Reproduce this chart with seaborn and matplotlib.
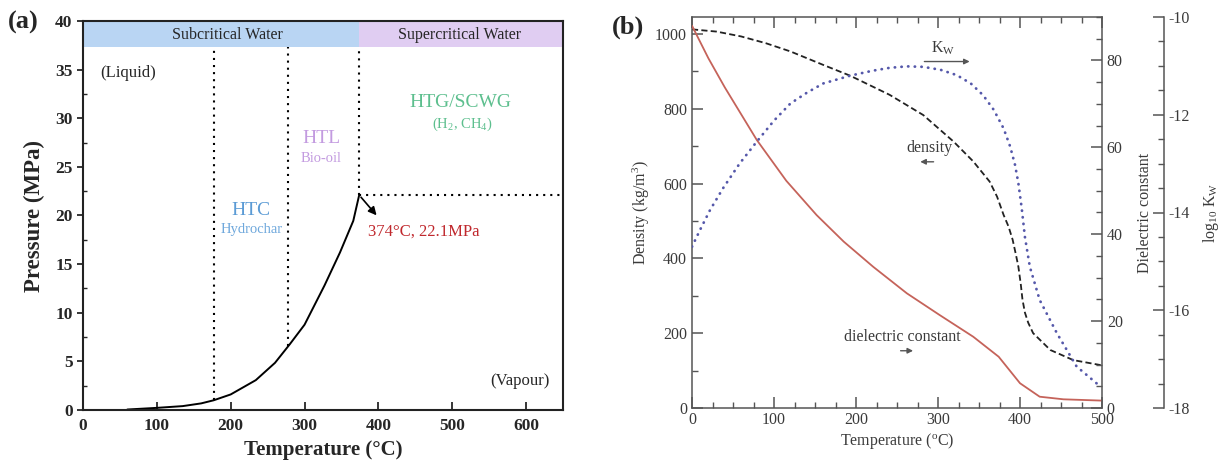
import matplotlib
matplotlib.use("Agg")
import matplotlib.pyplot as plt
from matplotlib.ticker import MultipleLocator
import seaborn as sns

# (a) water saturation curve
sat_T = [60, 100, 135, 160, 177, 200, 234, 260, 280, 300, 327, 348, 366, 374]
sat_P = [0.05, 0.22, 0.4, 0.68, 1.0, 1.6, 3.07, 4.85, 6.76, 8.77, 12.8, 16.2, 19.45, 22.1]
crit_T, crit_P = 374, 22.1
boundary_T = [177, 278, 374]
boundary_low = [1.0, 6.6, 22.1]
band_low, band_high = 37.3, 40

# (b) properties of water vs temperature
dens_T = [0, 30, 60, 90, 120, 160, 193, 241, 282, 319, 343, 363, 372, 380, 386, 391, 395, 398,
          401, 403, 406, 410, 416, 437, 465, 500]
dens = [1012, 1006, 993, 975, 953, 917, 888, 837, 783, 712, 659, 605, 565, 516, 485, 450, 410,
        378, 330, 290, 255, 228, 200, 155, 128, 114]
diel_T = [0, 20, 40, 79, 115, 152, 185, 221, 262, 302, 343, 374, 400, 424, 453, 500]
diel = [88, 80.5, 73.8, 61.7, 52.3, 44.4, 38.3, 32.5, 26.4, 21.4, 16.4, 11.8, 5.7, 2.6, 2.0, 1.7]
kw_T = [0, 10, 22, 38, 58, 79, 100, 120, 140, 160, 193, 220, 241, 262, 282, 303, 323, 340,
        355, 368, 380, 388, 394, 398, 402, 406, 412, 424, 445, 469, 498]
kw = [-14.7, -14.35, -13.95, -13.5, -13.0, -12.55, -12.12, -11.77, -11.55, -11.36, -11.2,
      -11.1, -11.04, -11.01, -11.02, -11.08, -11.19, -11.36, -11.6, -11.9, -12.28, -12.65,
      -13.03, -13.4, -13.9, -14.5, -15.11, -15.79, -16.47, -17.15, -17.56]

sns.set_style("ticks")
plt.rcParams['font.family'] = ['Liberation Serif', 'DejaVu Serif']
plt.rcParams['mathtext.fontset'] = 'custom'
plt.rcParams['mathtext.rm'] = 'Liberation Serif'
plt.rcParams['mathtext.it'] = 'Liberation Serif:italic'
plt.rcParams['axes.unicode_minus'] = False

fig = plt.figure(figsize=(12.2, 4.63), dpi=100)
ax_a = fig.add_axes([83 / 1220, 53 / 463, 480 / 1220, 389 / 463])
ax_b = fig.add_axes([692 / 1220, 55 / 463, 410 / 1220, 391 / 463])

# ---------- panel (a) ----------
ax_a.fill_between([0, crit_T], band_low, band_high, color='#b9d5f3', lw=0)
ax_a.fill_between([crit_T, 650], band_low, band_high, color='#e0cdf2', lw=0)
ax_a.vlines(boundary_T, boundary_low, band_low, colors='black', lw=1.5, linestyles=(0, (1, 2.4)))
ax_a.hlines(crit_P, crit_T, 650, colors='black', lw=1.5, linestyles=(0, (1, 2.4)))
sns.lineplot(x=sat_T, y=sat_P, ax=ax_a, color='black', lw=1.4)

ax_a.set_xlim(0, 650)
ax_a.set_ylim(0, 40)
ax_a.xaxis.set_major_locator(MultipleLocator(100))
ax_a.yaxis.set_major_locator(MultipleLocator(5))
ax_a.yaxis.set_minor_locator(MultipleLocator(2.5))
ax_a.tick_params(axis='x', direction='in', length=6, width=1.3, labelsize=12.5, pad=6)
ax_a.tick_params(axis='y', which='major', direction='out', length=4, width=1.3, labelsize=12.5)
ax_a.tick_params(axis='y', which='minor', direction='in', length=3, width=1.0)
for lab in ax_a.get_xticklabels() + ax_a.get_yticklabels():
    lab.set_fontweight('bold')
for s in ax_a.spines.values():
    s.set_linewidth(1.5)
    s.set_color('#222222')
ax_a.set_xlabel('Temperature (°C)', fontsize=15, fontweight='bold', labelpad=4)
ax_a.set_ylabel('Pressure (MPa)', fontsize=16.5, fontweight='bold', labelpad=7)

ax_a.text(196, 38.6, 'Subcritical Water', ha='center', va='center', fontsize=11.5)
ax_a.text(510, 38.6, 'Supercritical Water', ha='center', va='center', fontsize=11.5)
ax_a.text(24, 34.7, '(Liquid)', ha='left', va='center', fontsize=12)
ax_a.text(632, 3.0, '(Vapour)', ha='right', va='center', fontsize=12)
ax_a.text(227, 20.5, 'HTC', ha='center', va='center', fontsize=14, color='#5b9bd5')
ax_a.text(228, 18.6, 'Hydrochar', ha='center', va='center', fontsize=10.5, color='#6fa8dc')
ax_a.text(323, 27.9, 'HTL', ha='center', va='center', fontsize=14, color='#c39be0')
ax_a.text(323, 25.9, 'Bio-oil', ha='center', va='center', fontsize=10.5, color='#c39be0')
ax_a.text(511, 31.6, 'HTG/SCWG', ha='center', va='center', fontsize=14, color='#5dbf8e')
ax_a.text(513, 29.4, '(H$_2$, CH$_4$)', ha='center', va='center', fontsize=10.5, color='#5dbf8e')
ax_a.annotate('', xy=(400, 19.8), xytext=(crit_T, crit_P),
              arrowprops=dict(arrowstyle='-|>', color='black', lw=1.2, mutation_scale=12))
ax_a.text(386, 18.3, '374°C, 22.1MPa', ha='left', va='center', fontsize=12, color='#c0282d')
fig.text(8 / 1220, 0.952, '(a)', fontsize=19, fontweight='bold', va='center', ha='left')

# ---------- panel (b) ----------
grey = '#3a3a3a'
ax_e = ax_b.twinx()
ax_k = ax_b.twinx()
ax_k.spines['right'].set_position(('axes', (1164 - 692) / 410))

sns.lineplot(x=dens_T, y=dens, ax=ax_b, color='#222222', lw=1.3, linestyle=(0, (3.4, 1.8)))
sns.lineplot(x=diel_T, y=diel, ax=ax_e, color='#c5635a', lw=1.3)
sns.lineplot(x=kw_T, y=kw, ax=ax_k, color='#5558aa', lw=2.0, linestyle=(0, (0.1, 2.3)),
             dash_capstyle='round')

ax_b.set_xlim(0, 500)
ax_b.set_ylim(0, 1045)
ax_e.set_ylim(0, 90)
ax_k.set_ylim(-18, -10)
ax_b.xaxis.set_major_locator(MultipleLocator(100))
ax_b.xaxis.set_minor_locator(MultipleLocator(25))
ax_b.yaxis.set_major_locator(MultipleLocator(200))
ax_b.yaxis.set_minor_locator(MultipleLocator(100))
ax_e.yaxis.set_major_locator(MultipleLocator(20))
ax_e.yaxis.set_minor_locator(MultipleLocator(5))
ax_k.yaxis.set_major_locator(MultipleLocator(2))
ax_k.yaxis.set_minor_locator(MultipleLocator(0.5))

for ax in (ax_b, ax_e, ax_k):
    ax.tick_params(which='major', direction='in', length=8, width=1.1, color='#555555',
                   labelsize=11.5, labelcolor=grey)
    ax.tick_params(which='minor', direction='in', length=4.5, width=1.0, color='#555555')
    for s in ax.spines.values():
        s.set_linewidth(1.1)
        s.set_color('#555555')
ax_b.tick_params(which='both', top=True, right=False)
ax_b.tick_params(axis='x', pad=3)
for side in ('left', 'top', 'bottom'):
    ax_e.spines[side].set_visible(False)
    ax_k.spines[side].set_visible(False)
ax_b.spines['right'].set_visible(False)

ax_b.set_xlabel('Temperature ($^{\\rm o}$C)', fontsize=11.5, color=grey, labelpad=2)
ax_b.set_ylabel('Density (kg/m$^3$)', fontsize=11.5, color=grey, labelpad=2)
ax_e.set_ylabel('Dielectric constant', fontsize=11.5, color=grey, labelpad=10)
ax_k.set_ylabel('log$_{10}$ K$_{\\rm W}$', fontsize=11.5, color=grey, labelpad=8)

arrow = dict(arrowstyle='-|>', color='#555555', lw=1.0, mutation_scale=8)
ax_b.text(306, 962, 'K$_{\\rm W}$', ha='center', va='center', fontsize=11.5, color=grey)
ax_b.annotate('', xy=(342, 926), xytext=(280, 926), arrowprops=arrow)
ax_b.text(290, 695, 'density', ha='center', va='center', fontsize=11.5, color=grey)
ax_b.annotate('', xy=(275, 658), xytext=(298, 658), arrowprops=arrow)
ax_b.text(257, 191, 'dielectric constant', ha='center', va='center', fontsize=11.5, color=grey)
ax_b.annotate('', xy=(273, 153), xytext=(251, 153), arrowprops=arrow)
fig.text(612 / 1220, 0.94, '(b)', fontsize=19, fontweight='bold', va='center', ha='left')

fig.savefig('out.png', dpi=100)
